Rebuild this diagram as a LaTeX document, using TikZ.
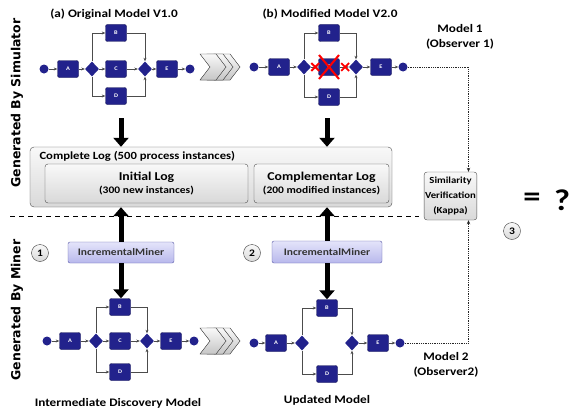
\documentclass[tikz,border=0pt]{standalone}
\usepackage{fontspec}
\setmainfont{Carlito}[FakeStretch=1.15]
\newfontfamily\sidefont{DejaVu Sans}
\usetikzlibrary{shapes.geometric,shapes.misc,arrows.meta,positioning,calc}
\definecolor{navy}{HTML}{22228C}
\definecolor{lavtop}{HTML}{E4E4FA}
\definecolor{lavbot}{HTML}{B8B8EC}

\begin{document}
\begin{tikzpicture}[x=1pt, y=-1pt,
    task/.style={draw=navy!60!black, fill=navy, rounded corners=2pt, minimum width=21pt, minimum height=17pt, inner sep=0pt, text=white, font=\bfseries\fontsize{5.5}{6}\selectfont},
    gate/.style={diamond, fill=navy, minimum width=14pt, minimum height=15pt, inner sep=0pt},
    evt/.style={circle, fill=navy, minimum size=9pt, inner sep=0pt},
    flow/.style={-{Stealth[length=3.5pt, width=3pt]}, draw=gray!60!black, line width=0.5pt},
    bigarr/.style={-{Triangle[length=9pt, width=15pt]}, line width=5pt, black},
    logbox/.style={draw=gray!60!black, rounded corners=4pt, top color=gray!5, bottom color=gray!30},
    minerbox/.style={draw=blue!30!gray, rounded corners=2pt, top color=lavtop, bottom color=lavbot, font=\bfseries\fontsize{10}{11}\selectfont, text=black!80},
    num/.style={circle, draw=gray!50!black, top color=gray!5, bottom color=gray!30, minimum size=17pt, inner sep=0pt, font=\bfseries\fontsize{10}{11}\selectfont},
    dotline/.style={densely dotted, line width=0.8pt, gray!30!black, -{Stealth[length=4pt, width=3.5pt]}},
    title/.style={font=\bfseries\fontsize{11.5}{14.5}\selectfont, align=center},
    side/.style={rotate=90, font=\sidefont\bfseries\fontsize{12.5}{13}\selectfont}
]
    \useasboundingbox (0,0) rectangle (569,412);

    % side labels
    \node[side] (gsim) at (17,103) {Generated By Simulator};
    \node[side] (gmin) at (17,310) {Generated By Miner};

    % (a) original model
    \node[title] (ta) at (114,14) {(a) Original Model V1.0};
    \node[evt] (as) at (44,69) {};
    \node[task] (aA) at (68,69) {A};
    \node[gate] (ag) at (92,69) {};
    \node[task] (aB) at (116,33) {B};
    \node[task] (aC) at (116,69) {C};
    \node[task] (aD) at (116,96) {D};
    \node[gate] (aj) at (145,69) {};
    \node[task] (aE) at (167,69) {E};
    \node[evt] (ae) at (190,69) {};

    % (b) modified model
    \node[title] (tb) at (330,14) {(b) Modified Model V2.0};
    \node[evt] (bs) at (254,67) {};
    \node[task] (bA) at (279,67) {A};
    \node[gate] (bg) at (304,67) {};
    \node[task] (bB) at (329,33) {B};
    \node[task] (bC) at (329,67) {C};
    \node[task] (bD) at (329,97) {D};
    \node[gate] (bj) at (356,67) {};
    \node[task] (bE) at (381,67) {E};
    \node[evt] (be) at (403,67) {};
    \node[title] (m1) at (460,37) {Model 1\\(Observer 1)};

    % intermediate discovery model
    \node[evt] (cs) at (47,341) {};
    \node[task] (cA) at (70,341) {A};
    \node[gate] (cg) at (96,341) {};
    \node[task] (cB) at (120,307) {B};
    \node[task] (cC) at (120,341) {C};
    \node[task] (cD) at (120,372) {D};
    \node[gate] (cj) at (147,341) {};
    \node[task] (cE) at (171,341) {E};
    \node[evt] (ce) at (194,341) {};
    \node[title] (tc) at (118,403) {Intermediate Discovery Model};

    % updated model
    \node[evt] (ds) at (254,343) {};
    \node[task] (dA) at (276,343) {A};
    \node[gate] (dg) at (302,343) {};
    \node[task] (dB) at (327,308) {B};
    \node[task] (dD) at (327,374) {D};
    \node[gate] (dj) at (352,343) {};
    \node[task] (dE) at (378,343) {E};
    \node[evt] (de) at (400,343) {};
    \node[title] (td) at (327,400) {Updated Model};
    \node[title] (m2) at (446,365) {Model 2\\(Observer2)};

    % flows
    \foreach \m in {a,b,c,d} {
        \draw[flow] (\m s) -- (\m A);
        \draw[flow] (\m A) -- (\m g);
        \draw[flow] (\m g) |- (\m B);
        \draw[flow] (\m g) |- (\m D);
        \draw[flow] (\m B) -| (\m j);
        \draw[flow] (\m D) -| (\m j);
        \draw[flow] (\m j) -- (\m E);
        \draw[flow] (\m E) -- (\m e);
    }
    \foreach \m in {a,b,c} {
        \draw[flow] (\m g) -- (\m C);
        \draw[flow] (\m C) -- (\m j);
    }

    % removed activity
    \node[cross out, draw=red, line width=2pt, minimum width=18pt, minimum height=22pt, inner sep=0pt] (xC) at (bC) {};
    \node[cross out, draw=red, line width=1.8pt, minimum size=6pt, inner sep=0pt] (x1) at ($(bg)!0.45!(bC)$) {};
    \node[cross out, draw=red, line width=1.8pt, minimum size=6pt, inner sep=0pt] (x2) at ($(bC)!0.6!(bj)$) {};

    % chevrons
    \foreach \y in {67,341} {
        \foreach \dx in {214,207,200} {
            \filldraw[draw=gray!55!black, top color=gray!5, bottom color=gray!45]
                (\dx,\y-13) -- (\dx+16,\y-13) -- (\dx+26,\y) -- (\dx+16,\y+13)
                -- (\dx,\y+13) -- (\dx+10,\y) -- cycle;
        }
    }

    % logs
    \node[logbox, minimum width=362pt, minimum height=60pt] (log) at (211,177) {};
    \node[anchor=west, font=\bfseries\fontsize{11}{12}\selectfont] (logt) at (36,156) {Complete Log (500 process instances)};
    \node[logbox, rounded corners=3pt, minimum width=203pt, minimum height=39pt, align=center, font=\bfseries] (init) at (146.5,183.5)
        {{\fontsize{12}{13}\selectfont Initial Log}\\[1pt]{\fontsize{10}{10}\selectfont (300 new instances)}};
    \node[logbox, rounded corners=3pt, minimum width=135pt, minimum height=39pt, align=center, font=\bfseries] (comp) at (321.5,183.5)
        {{\fontsize{12}{13}\selectfont Complementar Log}\\[1pt]{\fontsize{10}{10}\selectfont (200 modified instances)}};

    % separator
    \coordinate (sepl) at (10,216);
    \coordinate (sepr) at (419,216);
    \draw[dashed, line width=0.8pt, dash pattern=on 5pt off 4pt] (sepl) -- (sepr);

    % miners
    \node[minerbox, minimum width=106pt, minimum height=21pt] (mina) at (121,252.5) {IncrementalMiner};
    \node[minerbox, minimum width=110pt, minimum height=22pt] (minb) at (327,252) {IncrementalMiner};
    \node[num] (n1) at (40,253) {1};
    \node[num] (n2) at (252,253) {2};

    % similarity
    \node[logbox, rounded corners=3pt, minimum width=43pt, minimum height=48pt, inner sep=1pt, align=center, font=\bfseries\fontsize{9.3}{15}\selectfont] (sim) at (450.5,196) {Similarity\\Verification\\(Kappa)};
    \node[num] (n3) at (512,231) {3};
    \node[font=\bfseries\fontsize{30}{30}\selectfont] (eq) at (532,200) {=};
    \node[font=\bfseries\fontsize{30}{30}\selectfont] (qm) at (562,200) {?};

    % big arrows
    \coordinate (ta1) at (121,118);
    \coordinate (tb1) at (327,118);
    \draw[bigarr] (ta1) -- (ta1 |- log.north);
    \draw[bigarr] (tb1) -- (tb1 |- log.north);
    \draw[bigarr] (mina.north) -- (mina.north |- log.south);
    \draw[bigarr] (minb.north) -- (minb.north |- log.south);
    \draw[bigarr] (mina.south) -- (mina.south |- cB.north);
    \draw[bigarr] (minb.south) -- (dB.north);

    % dotted links
    \draw[dotline] (be.east) -| ([xshift=18pt]sim.north);
    \draw[dotline] (de.east) -| ([xshift=18pt]sim.south);
\end{tikzpicture}
\end{document}
